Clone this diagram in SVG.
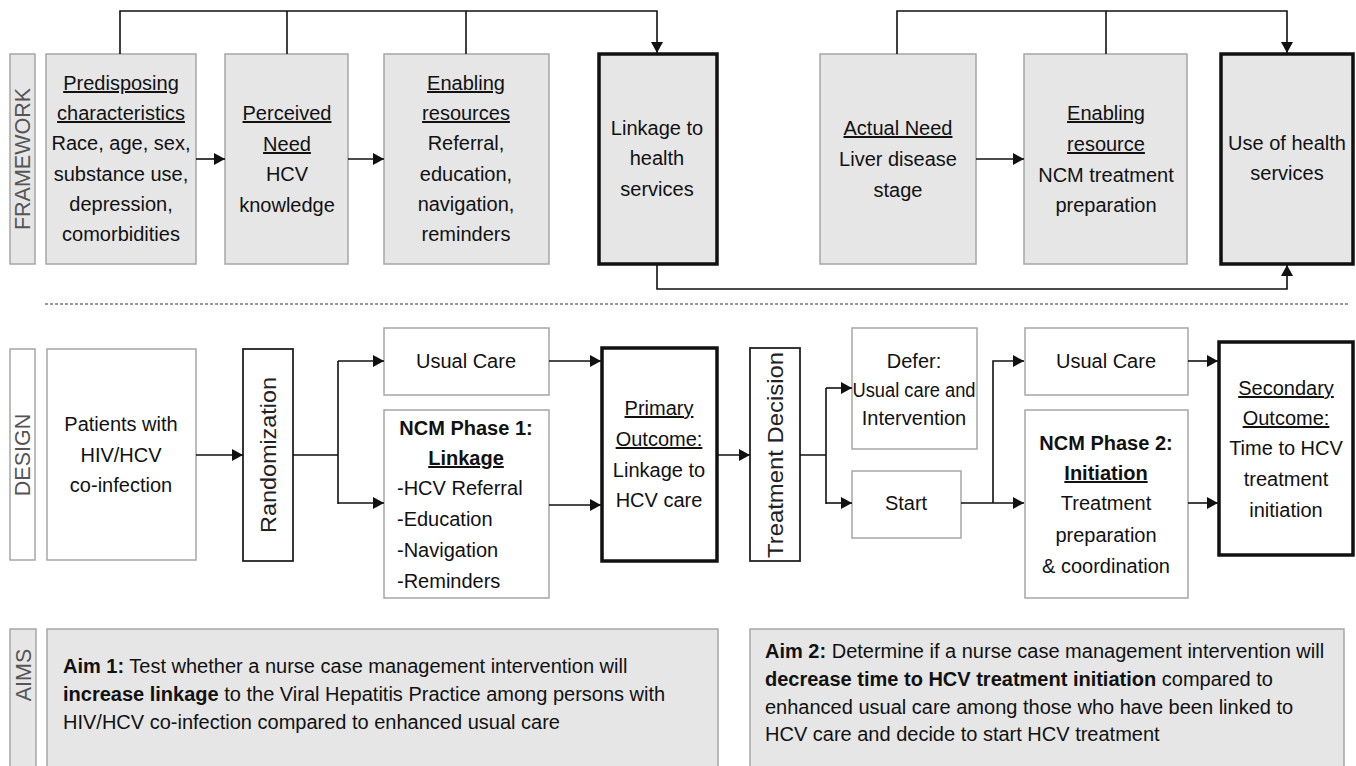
<svg xmlns="http://www.w3.org/2000/svg" width="1356" height="766" viewBox="0 0 1356 766">
<defs>
<style>
text{font-family:"Liberation Sans",Arial,sans-serif;font-size:20px;fill:#111;}
.c{text-anchor:middle;}
.u{text-decoration:underline;}
.b{font-weight:bold;}
.lbl{font-size:21.5px;fill:#555;text-anchor:middle;}
.rot{font-size:22px;fill:#222;text-anchor:middle;}
.gray{fill:#e6e6e6;stroke:#a6a6a6;stroke-width:1.5;}
.white{fill:#fff;stroke:#a6a6a6;stroke-width:1.5;}
.thick{fill:#e6e6e6;stroke:#111;stroke-width:3.5;}
.thickw{fill:#fff;stroke:#111;stroke-width:3.5;}
.dark{fill:#fff;stroke:#222;stroke-width:1.8;}
.ln{fill:none;stroke:#111;stroke-width:1.6;}
.ar{fill:none;stroke:#111;stroke-width:1.6;marker-end:url(#ah);}
</style>
<marker id="ah" markerUnits="userSpaceOnUse" markerWidth="11" markerHeight="12" refX="11" refY="6" orient="auto">
<path d="M0,0 L11,6 L0,12 z" fill="#111"/>
</marker>
</defs>
<rect width="1356" height="766" fill="#fff"/>

<!-- FRAMEWORK -->
<g id="lbl-framework">
<rect class="gray" x="10" y="54" width="25" height="210"/>
<text class="lbl" transform="translate(30,159) rotate(-90)">FRAMEWORK</text>
</g>
<g id="predisposing">
<rect class="gray" x="46" y="54" width="150" height="210"/>
<text class="c" x="121" y="90"><tspan class="u">Predisposing</tspan></text>
<text class="c" x="121" y="120"><tspan class="u">characteristics</tspan></text>
<text class="c" x="121" y="150">Race, age, sex,</text>
<text class="c" x="121" y="181">substance use,</text>
<text class="c" x="121" y="211">depression,</text>
<text class="c" x="121" y="241">comorbidities</text>
</g>
<g id="perceived">
<rect class="gray" x="225" y="54" width="123" height="210"/>
<text class="c" x="287" y="120"><tspan class="u">Perceived</tspan></text>
<text class="c" x="287" y="151"><tspan class="u">Need</tspan></text>
<text class="c" x="287" y="181">HCV</text>
<text class="c" x="287" y="212">knowledge</text>
</g>
<g id="enabling1">
<rect class="gray" x="384" y="54" width="165" height="210"/>
<text class="c" x="466" y="90"><tspan class="u">Enabling</tspan></text>
<text class="c" x="466" y="120"><tspan class="u">resources</tspan></text>
<text class="c" x="466" y="150">Referral,</text>
<text class="c" x="466" y="181">education,</text>
<text class="c" x="466" y="211">navigation,</text>
<text class="c" x="466" y="241">reminders</text>
</g>
<g id="linkage">
<rect class="thick" x="599" y="54" width="118" height="210"/>
<text class="c" x="657" y="135">Linkage to</text>
<text class="c" x="657" y="165">health</text>
<text class="c" x="657" y="196">services</text>
</g>
<g id="actual">
<rect class="gray" x="820" y="54" width="156" height="210"/>
<text class="c" x="898" y="135"><tspan class="u">Actual Need</tspan></text>
<text class="c" x="898" y="166">Liver disease</text>
<text class="c" x="898" y="197">stage</text>
</g>
<g id="enabling2">
<rect class="gray" x="1024" y="54" width="163" height="210"/>
<text class="c" x="1106" y="120"><tspan class="u">Enabling</tspan></text>
<text class="c" x="1106" y="151"><tspan class="u">resource</tspan></text>
<text class="c" x="1106" y="182">NCM treatment</text>
<text class="c" x="1106" y="212">preparation</text>
</g>
<g id="use">
<rect class="thick" x="1221" y="54" width="132" height="210"/>
<text class="c" x="1287" y="150">Use of health</text>
<text class="c" x="1287" y="180">services</text>
</g>

<line x1="45" y1="304" x2="1350" y2="304" stroke="#333" stroke-width="1.2" stroke-dasharray="3,2"/>

<!-- DESIGN -->
<g id="lbl-design">
<rect class="white" x="10" y="349" width="25" height="211"/>
<text class="lbl" transform="translate(30,455) rotate(-90)">DESIGN</text>
</g>
<g id="patients">
<rect class="white" x="47" y="349" width="149" height="211"/>
<text class="c" x="121" y="431">Patients with</text>
<text class="c" x="121" y="462">HIV/HCV</text>
<text class="c" x="121" y="492">co-infection</text>
</g>
<g id="randomization">
<rect class="dark" x="243" y="349" width="50" height="212"/>
<text class="rot" transform="translate(276,455) rotate(-90)" textLength="156" lengthAdjust="spacingAndGlyphs">Randomization</text>
</g>
<g id="usual1">
<rect class="white" x="384" y="328" width="165" height="67"/>
<text class="c" x="466" y="368">Usual Care</text>
</g>
<g id="ncm1">
<rect class="white" x="384" y="410" width="165" height="188"/>
<text class="c b" x="466" y="435">NCM Phase 1:</text>
<text class="c b u" x="466" y="465">Linkage</text>
<text x="397" y="495">-HCV Referral</text>
<text x="397" y="526">-Education</text>
<text x="397" y="557">-Navigation</text>
<text x="397" y="588">-Reminders</text>
</g>
<g id="primary">
<rect class="thickw" x="602" y="348" width="115" height="213"/>
<text class="c" x="659" y="415"><tspan class="u">Primary</tspan></text>
<text class="c" x="659" y="446"><tspan class="u">Outcome:</tspan></text>
<text class="c" x="659" y="477">Linkage to</text>
<text class="c" x="659" y="507">HCV care</text>
</g>
<g id="treatment-decision">
<rect class="dark" x="750" y="348" width="50" height="213"/>
<text class="rot" transform="translate(783,455) rotate(-90)" textLength="206" lengthAdjust="spacingAndGlyphs">Treatment Decision</text>
</g>
<g id="defer">
<rect class="white" x="852" y="328" width="125" height="121"/>
<text class="c" x="914" y="368">Defer:</text>
<text class="c" x="914" y="397" textLength="123" lengthAdjust="spacingAndGlyphs">Usual care and</text>
<text class="c" x="914" y="425">Intervention</text>
</g>
<g id="start">
<rect class="white" x="852" y="471" width="109" height="67"/>
<text class="c" x="906" y="510">Start</text>
</g>
<g id="usual2">
<rect class="white" x="1025" y="328" width="163" height="67"/>
<text class="c" x="1106" y="368">Usual Care</text>
</g>
<g id="ncm2">
<rect class="white" x="1025" y="410" width="163" height="188"/>
<text class="c b" x="1106" y="450">NCM Phase 2:</text>
<text class="c b u" x="1106" y="480">Initiation</text>
<text class="c" x="1106" y="510">Treatment</text>
<text class="c" x="1106" y="542">preparation</text>
<text class="c" x="1106" y="573">&amp; coordination</text>
</g>
<g id="secondary">
<rect class="thickw" x="1219" y="342" width="134" height="213"/>
<text class="c" x="1286" y="395"><tspan class="u">Secondary</tspan></text>
<text class="c" x="1286" y="425"><tspan class="u">Outcome:</tspan></text>
<text class="c" x="1286" y="455">Time to HCV</text>
<text class="c" x="1286" y="486">treatment</text>
<text class="c" x="1286" y="517">initiation</text>
</g>

<!-- AIMS -->
<g id="lbl-aims">
<rect class="gray" x="10" y="629" width="26" height="150"/>
<text class="lbl" transform="translate(31,675) rotate(-90)">AIMS</text>
</g>
<g id="aim1">
<rect class="gray" x="47" y="629" width="671" height="150"/>
<text x="63" y="673"><tspan class="b">Aim 1:</tspan> Test whether a nurse case management intervention will</text>
<text x="63" y="701"><tspan class="b">increase linkage</tspan> to the Viral Hepatitis Practice among persons with</text>
<text x="63" y="729">HIV/HCV co-infection compared to enhanced usual care</text>
</g>
<g id="aim2">
<rect class="gray" x="750" y="629" width="594" height="150"/>
<text x="765" y="658"><tspan class="b">Aim 2:</tspan> Determine if a nurse case management intervention will</text>
<text x="765" y="686"><tspan class="b">decrease time to HCV treatment initiation</tspan> compared to</text>
<text x="765" y="714">enhanced usual care among those who have been linked to</text>
<text x="765" y="741">HCV care and decide to start HCV treatment</text>
</g>

<!-- connectors -->
<g id="connectors">
<path class="ar" d="M120,54 V11 H657 V53"/>
<path class="ln" d="M287,54 V11"/>
<path class="ln" d="M466,54 V11"/>
<path class="ar" d="M897,54 V11 H1287 V53"/>
<path class="ln" d="M1106,54 V11"/>
<path class="ar" d="M657,265 V289 H1287 V265"/>
<path class="ar" d="M196,159 H225"/>
<path class="ar" d="M348,159 H384"/>
<path class="ar" d="M976,159 H1024"/>
<path class="ar" d="M196,455 H243"/>
<path class="ln" d="M293,455 H338 M338,361 V504"/>
<path class="ar" d="M338,361 H384"/>
<path class="ar" d="M338,503 H384"/>
<path class="ar" d="M549,361 H601"/>
<path class="ar" d="M549,505 H601"/>
<path class="ar" d="M717,455 H750"/>
<path class="ln" d="M800,455 H826 M826,388 V504"/>
<path class="ar" d="M826,388 H852"/>
<path class="ar" d="M826,503 H852"/>
<path class="ar" d="M961,503 H1024"/>
<path class="ar" d="M993,503 V361 H1024"/>
<path class="ar" d="M1188,361 H1218"/>
<path class="ar" d="M1188,503 H1218"/>
</g>
</svg>
